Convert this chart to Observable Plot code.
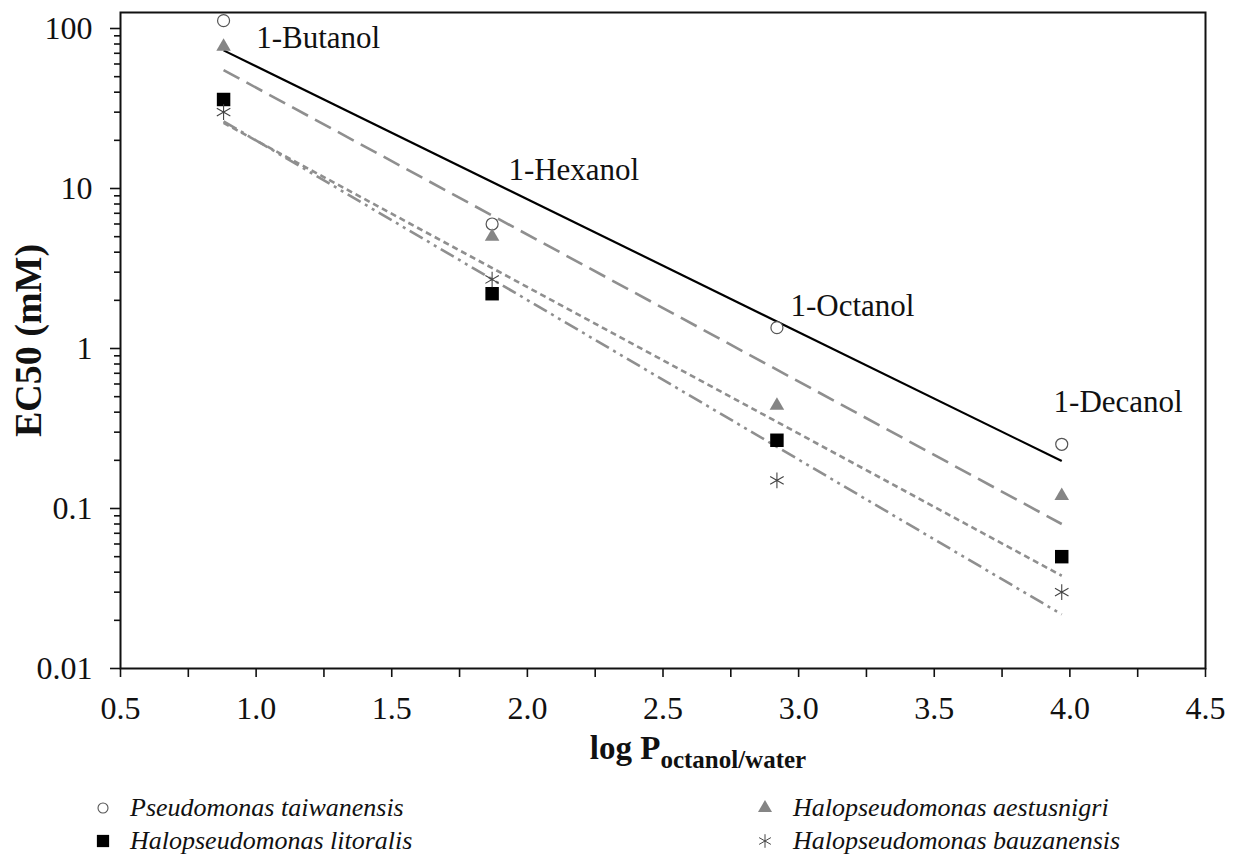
<!DOCTYPE html>
<html><head><meta charset="utf-8">
<script src="https://cdn.jsdelivr.net/npm/d3@7"></script>
<script src="https://cdn.jsdelivr.net/npm/@observablehq/plot@0.6"></script>
<style>
body{margin:0;background:#fff;font-family:"Liberation Serif","Times New Roman",serif;}
#wrap{position:relative;width:1235px;height:854px;overflow:hidden;}
#legend{position:absolute;left:0;top:780px;width:1235px;height:74px;}
.item{position:absolute;height:30px;line-height:30px;font-style:italic;font-size:26px;color:#111;white-space:nowrap;font-family:"Liberation Serif","Times New Roman",serif;}
.sym{position:absolute;}
</style></head><body><div id="wrap"><div id="chart"></div><div id="legend"></div></div>
<script>
// ---------- data ----------
const alcohols = ["1-Butanol", "1-Hexanol", "1-Octanol", "1-Decanol"];
const logP = [0.88, 1.87, 2.92, 3.97];
const species = ["Pseudomonas taiwanensis", "Halopseudomonas aestusnigri", "Halopseudomonas litoralis", "Halopseudomonas bauzanensis"];
const ec50Taiwanensis = [112, 6.0, 1.35, 0.252];
const ec50Aestusnigri = [77, 5.0, 0.44, 0.12];
const ec50Litoralis = [36, 2.2, 0.267, 0.05];
const ec50Bauzanensis = [30, 2.7, 0.15, 0.03];
// trend lines (values read at first and last logP)
const trendX = [0.88, 3.97];
const trendTaiwanensis = [73, 0.198];
const trendAestusnigri = [55, 0.080];
const trendLitoralis = [25.7, 0.038];
const trendBauzanensis = [26.3, 0.0218];
// alcohol label anchor values
const labelX = [1.0, 1.93, 2.97, 3.94];
const labelY = [87, 13, 1.83, 0.46];
// ticks
const xTicksMajor = [0.5, 1.0, 1.5, 2.0, 2.5, 3.0, 3.5, 4.0, 4.5];
const xTicksMinor = [0.75, 1.25, 1.75, 2.25, 2.75, 3.25, 3.75, 4.25];
const yTicksMajor = [0.01, 0.1, 1, 10, 100];
const yTicksMinor = [0.02,0.03,0.04,0.05,0.06,0.07,0.08,0.09,0.2,0.3,0.4,0.5,0.6,0.7,0.8,0.9,2,3,4,5,6,7,8,9,20,30,40,50,60,70,80,90];
const yTitle = "EC50 (mM)";
const xTitle = "log P";
const xTitleSub = "octanol/water";

// ---------- styles ----------
const ec50 = [ec50Taiwanensis, ec50Aestusnigri, ec50Litoralis, ec50Bauzanensis];
const trends = [trendTaiwanensis, trendAestusnigri, trendLitoralis, trendBauzanensis];
const dotStyles = [
  {symbol: "circle", r: 6, fill: "white", stroke: "#555", strokeWidth: 1.2},
  {symbol: "triangle", r: 5.4, fill: "#858585", stroke: "none"},
  {symbol: "square", r: 7.6, fill: "#000", stroke: "none"},
  {symbol: "asterisk", r: 7.4, fill: "none", stroke: "#444", strokeWidth: 1.1}
];
const lineStyles = [
  {stroke: "#000", strokeWidth: 2.2, strokeDasharray: null},
  {stroke: "#8f8f8f", strokeWidth: 2.6, strokeDasharray: "18,8"},
  {stroke: "#8f8f8f", strokeWidth: 2.6, strokeDasharray: "6,4"},
  {stroke: "#8f8f8f", strokeWidth: 2.6, strokeDasharray: "15,5,3,5,3,5"}
];
const FONT = '"Liberation Serif","Times New Roman",serif';

const marks = [];
species.forEach((s, i) => {
  const tdata = trendX.map((x, j) => ({x, y: trends[i][j]}));
  marks.push(Plot.line(tdata, {x: "x", y: "y", ...lineStyles[i], strokeLinecap: "butt"}));
});
species.forEach((s, i) => {
  const d = logP.map((x, j) => ({x, y: ec50[i][j]}));
  marks.push(Plot.dot(d, {x: "x", y: "y", ...dotStyles[i]}));
});
const labels = alcohols.map((t, i) => ({t, x: labelX[i], y: labelY[i]}));
marks.push(Plot.text(labels, {x: "x", y: "y", text: "t", textAnchor: "start", lineAnchor: "middle", fontSize: 31, fill: "#111"}));

const chart = Plot.plot({
  width: 1235,
  height: 780,
  marginLeft: 120,
  marginRight: 30,
  marginTop: 12,
  marginBottom: 112,
  style: {fontFamily: FONT, background: "white", color: "#111", overflow: "visible"},
  x: {domain: [0.5, 4.5]},
  y: {type: "log", domain: [0.01, 125.9]},
  marks: [
    Plot.axisX(xTicksMinor, {tickSize: 9, tickFormat: () => "", strokeWidth: 1.6, label: null}),
    Plot.axisX(xTicksMajor, {tickSize: 9, tickPadding: 19, tickFormat: d3.format(".1f"), fontSize: 32, strokeWidth: 1.6, label: null}),
    Plot.axisY(yTicksMinor, {tickSize: 6, tickFormat: () => "", strokeWidth: 1.6, label: null}),
    Plot.axisY(yTicksMajor, {tickSize: 10, tickPadding: 18, tickFormat: d => String(d), fontSize: 32, strokeWidth: 1.6, label: null}),
    ...marks,
    Plot.frame({stroke: "#111", strokeWidth: 2}),
    Plot.text([yTitle], {frameAnchor: "left", textAnchor: "middle", lineAnchor: "middle", rotate: -90, dx: -92, fontSize: 38, fontWeight: "bold", fill: "#111"}),
    Plot.text([xTitle], {frameAnchor: "bottom", textAnchor: "middle", lineAnchor: "middle", dx: 35, dy: 80, fontSize: 33, fontWeight: "bold", fill: "#111"})
  ]
});
document.getElementById("chart").appendChild(chart);

// subscript on x title
d3.select(chart).selectAll("text")
  .filter(function() { return this.textContent === xTitle; })
  .each(function() {
    d3.select(this).append("tspan").attr("font-size", 25).attr("dy", 9).text(xTitleSub);
  });

// ---------- legend ----------
const legendPos = [
  {sx: 103, tx: 130, cy: 28},
  {sx: 765, tx: 793, cy: 28},
  {sx: 103, tx: 130, cy: 61},
  {sx: 765, tx: 793, cy: 61}
];
const legendSym = [
  {type: d3.symbolCircle, size: Math.PI * 25, fill: "white", stroke: "#555", sw: 1.1},
  {type: d3.symbolTriangle, size: 85, fill: "#858585", stroke: "none", sw: 0},
  {type: d3.symbolSquare, size: 150, fill: "#000", stroke: "none", sw: 0},
  {type: d3.symbolAsterisk, size: 130, fill: "none", stroke: "#444", sw: 1}
];
const legend = d3.select("#legend");
species.forEach((s, i) => {
  const p = legendPos[i], st = legendSym[i];
  const svg = legend.append("svg").attr("class", "sym").attr("width", 24).attr("height", 24)
    .style("left", (p.sx - 12) + "px").style("top", (p.cy - 12) + "px");
  svg.append("path").attr("transform", "translate(12,12)")
    .attr("d", d3.symbol(st.type, st.size)())
    .attr("fill", st.fill).attr("stroke", st.stroke).attr("stroke-width", st.sw);
  legend.append("div").attr("class", "item")
    .style("left", p.tx + "px").style("top", (p.cy - 15) + "px").text(s);
});
</script></body></html>
